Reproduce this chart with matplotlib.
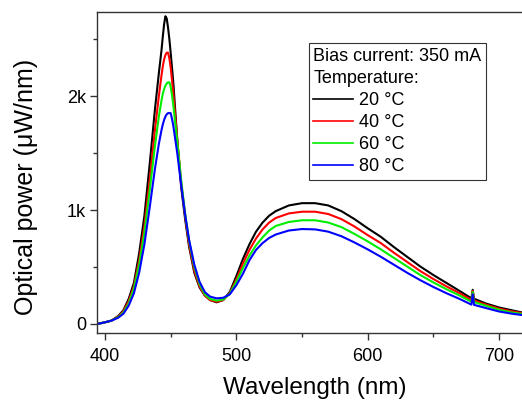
import numpy as np
import matplotlib
matplotlib.use('Agg')
import matplotlib.pyplot as plt
from matplotlib.lines import Line2D
from matplotlib.ticker import MultipleLocator

plt.rcParams['font.family'] = ['Liberation Sans', 'DejaVu Sans']

# wavelength grid (nm)
wavelength = [394, 400, 405, 410, 414, 418, 422, 426, 430, 434, 438, 441, 443, 444, 445, 446, 447,
              448, 449, 450, 451, 452, 455, 458, 461, 464, 468, 472, 476, 480, 485, 490, 495, 500,
              505, 510, 515, 520, 525, 530, 540, 550, 560, 570, 580, 590, 600, 610, 620, 630, 640,
              650, 660, 670, 679, 680, 681, 690, 700, 710, 718]

# optical power in k uW/nm
power_20 = [0.00, 0.015, 0.03, 0.07, 0.12, 0.22, 0.36, 0.62, 0.95, 1.40, 1.88, 2.20, 2.40, 2.52, 2.63,
            2.70, 2.68, 2.60, 2.50, 2.38, 2.25, 2.12, 1.62, 1.20, 0.92, 0.68, 0.45, 0.32, 0.25, 0.21,
            0.19, 0.21, 0.28, 0.42, 0.57, 0.70, 0.81, 0.89, 0.95, 0.99, 1.04, 1.06, 1.06, 1.04, 0.99,
            0.92, 0.84, 0.765, 0.675, 0.59, 0.505, 0.43, 0.36, 0.29, 0.225, 0.30, 0.222, 0.18, 0.145,
            0.12, 0.10]
power_40 = [0.00, 0.015, 0.03, 0.065, 0.11, 0.20, 0.33, 0.56, 0.86, 1.26, 1.70, 2.00, 2.18, 2.26, 2.32,
            2.36, 2.38, 2.38, 2.33, 2.25, 2.14, 2.02, 1.62, 1.24, 0.95, 0.70, 0.47, 0.33, 0.25, 0.21,
            0.195, 0.21, 0.27, 0.39, 0.53, 0.65, 0.75, 0.83, 0.89, 0.93, 0.97, 0.985, 0.985, 0.965,
            0.92, 0.855, 0.78, 0.71, 0.625, 0.545, 0.465, 0.395, 0.33, 0.27, 0.21, 0.29, 0.207, 0.17,
            0.135, 0.11, 0.095]
power_60 = [0.00, 0.015, 0.03, 0.06, 0.10, 0.18, 0.31, 0.52, 0.80, 1.17, 1.56, 1.82, 1.96, 2.02, 2.06,
            2.09, 2.11, 2.12, 2.12, 2.08, 2.01, 1.92, 1.60, 1.26, 0.97, 0.73, 0.50, 0.35, 0.26, 0.22,
            0.205, 0.215, 0.265, 0.37, 0.49, 0.60, 0.69, 0.76, 0.82, 0.86, 0.895, 0.91, 0.91, 0.89,
            0.85, 0.79, 0.725, 0.655, 0.58, 0.505, 0.43, 0.365, 0.305, 0.25, 0.195, 0.28, 0.193, 0.16,
            0.125, 0.10, 0.088]
power_80 = [0.00, 0.015, 0.03, 0.055, 0.09, 0.16, 0.27, 0.45, 0.70, 1.02, 1.36, 1.58, 1.70, 1.75, 1.79,
            1.82, 1.84, 1.85, 1.85, 1.85, 1.80, 1.74, 1.50, 1.22, 0.96, 0.74, 0.52, 0.37, 0.28, 0.24,
            0.225, 0.23, 0.26, 0.34, 0.44, 0.56, 0.65, 0.71, 0.755, 0.785, 0.82, 0.833, 0.83, 0.81,
            0.77, 0.715, 0.655, 0.59, 0.52, 0.45, 0.385, 0.325, 0.27, 0.22, 0.17, 0.26, 0.168, 0.14,
            0.11, 0.09, 0.078]

series = [power_20, power_40, power_60, power_80]
labels = ['20 °C', '40 °C', '60 °C', '80 °C']
colors = ['black', '#ff0000', '#00ee00', '#0000ff']

fig = plt.figure(figsize=(5.22, 4.0), dpi=100)
ax = fig.add_axes([97 / 522, 67 / 400, 426 / 522, 321 / 400])

for vals, lab, col in zip(series, labels, colors):
    ax.plot(wavelength, np.array(vals) * 1000, color=col, lw=1.5, label=lab)

ax.set_xlim(393.9, 718.3)
ax.set_ylim(-79, 2737)
ax.xaxis.set_major_locator(MultipleLocator(100))
ax.xaxis.set_minor_locator(MultipleLocator(50))
ax.set_yticks([0, 1000, 2000], ['0', '1k', '2k'])
ax.yaxis.set_minor_locator(MultipleLocator(500))

for s in ['left', 'bottom', 'top']:
    ax.spines[s].set_color('0.2')
    ax.spines[s].set_linewidth(1.0)
ax.spines['right'].set_visible(False)

ax.tick_params(which='major', direction='out', length=5, width=1, color='0.2', labelsize=13)
ax.tick_params(axis='x', which='major', pad=5.5)
ax.tick_params(axis='y', which='major', pad=3)
ax.tick_params(which='minor', direction='out', length=3, width=1, color='0.2')
ax.tick_params(top=False, right=False, which='both')

ax.set_xlabel('Wavelength (nm)', fontsize=17.5)
ax.set_ylabel('Optical power (μW/nm)', fontsize=18)
ax.xaxis.set_label_coords(0.51, -0.137)
ax.yaxis.set_label_coords(-0.139, 0.456)

handles = [Line2D([], [], color=c, lw=1.2) for c in colors]
leg = ax.legend(handles, labels, title='Bias current: 350 mA\nTemperature:', fontsize=13,
                title_fontsize=13, alignment='left', loc='upper right',
                bbox_to_anchor=(0.913, 0.9025), borderaxespad=0, fancybox=False,
                edgecolor='0.2', framealpha=1, handlelength=2.2, handletextpad=0.35,
                labelspacing=0.28, borderpad=0.25)
leg.get_title().set_linespacing(1.4)
leg.get_frame().set_linewidth(0.8)

fig.savefig('out.png', dpi=100)
